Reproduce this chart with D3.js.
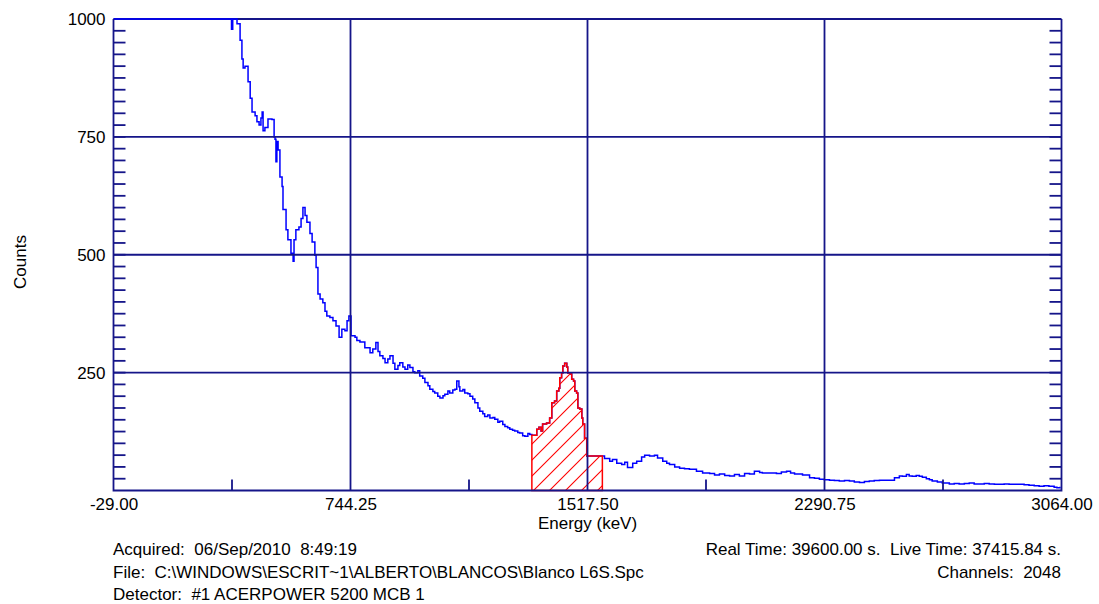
<!DOCTYPE html>
<html>
<head>
<meta charset="utf-8">
<script src="https://cdn.jsdelivr.net/npm/d3@7"></script>
<style>
  html, body { margin: 0; background: #fff; }
  svg { display: block; }
  text { font-family: "Liberation Sans", Arial, sans-serif; fill: #000; }
</style>
</head>
<body>
<svg id="chart" width="1099" height="604"></svg>
<script>
// Gamma spectrum: energy (keV) of each sampled bin and its counts
const energyKeV = [
  -29, 60, 150, 240, 300, 340, 352, 356, 360, 368,
  374, 384, 390, 394, 400, 410, 417, 423, 433, 439,
  446, 452, 456, 459, 465, 475, 488, 495, 498, 501,
  504, 508, 514, 521, 524, 534, 540, 550, 557, 560,
  566, 576, 583, 589, 596, 602, 612, 619, 628, 632,
  638, 645, 654, 661, 667, 677, 687, 697, 707, 716,
  726, 733, 739, 746, 759, 765, 775, 791, 808, 817,
  827, 834, 840, 850, 857, 866, 873, 883, 889, 899,
  905, 915, 922, 931, 938, 948, 954, 964, 970, 980,
  987, 997, 1003, 1013, 1019, 1029, 1036, 1046, 1052, 1062,
  1068, 1078, 1085, 1091, 1098, 1101, 1111, 1117, 1127, 1134,
  1143, 1150, 1160, 1166, 1176, 1182, 1192, 1199, 1209, 1215,
  1225, 1231, 1241, 1248, 1257, 1264, 1273, 1280, 1290, 1296,
  1306, 1313, 1323, 1329, 1336, 1352, 1359, 1366, 1371, 1384,
  1394, 1401, 1410, 1417, 1424, 1427, 1433, 1437, 1443, 1450,
  1453, 1463, 1466, 1472, 1476, 1482, 1486, 1492, 1499, 1502,
  1508, 1515, 1566, 1573, 1590, 1599, 1613, 1629, 1639, 1648,
  1665, 1678, 1694, 1704, 1720, 1736, 1746, 1763, 1776, 1785,
  1802, 1818, 1834, 1850, 1873, 1893, 1916, 1932, 1948, 1965,
  1981, 1997, 2013, 2030, 2046, 2062, 2079, 2088, 2111, 2134,
  2150, 2167, 2180, 2193, 2219, 2242, 2258, 2274, 2290, 2307,
  2323, 2339, 2356, 2372, 2388, 2405, 2421, 2437, 2453, 2470,
  2486, 2502, 2519, 2535, 2545, 2558, 2567, 2577, 2590, 2600,
  2610, 2623, 2633, 2642, 2659, 2675, 2698, 2714, 2730, 2747,
  2763, 2779, 2796, 2812, 2828, 2845, 2861, 2877, 2893, 2910,
  2926, 2942, 2958, 2975, 2991, 3007, 3023, 3040, 3049, 3059
];
const counts = [
  9000, 6500, 4200, 2600, 1800, 1300, 1100, 978, 1040, 1010,
  990, 955, 915, 896, 900, 867, 832, 803, 795, 782,
  775, 790, 803, 763, 770, 788, 787, 750, 745, 697,
  740, 722, 665, 645, 596, 553, 532, 503, 486, 532,
  553, 559, 577, 600, 583, 569, 545, 527, 499, 473,
  417, 406, 398, 380, 370, 367, 360, 349, 325, 342,
  339, 360, 370, 328, 325, 318, 315, 303, 292, 300,
  314, 295, 286, 280, 271, 279, 286, 270, 257, 265,
  271, 262, 257, 266, 261, 252, 250, 254, 243, 238,
  229, 222, 215, 210, 207, 200, 196, 201, 204, 211,
  207, 213, 215, 232, 220, 211, 214, 207, 205, 200,
  194, 186, 175, 168, 163, 157, 160, 154, 155, 151,
  145, 147, 140, 136, 133, 130, 128, 126, 123, 122,
  116, 115, 121, 119, 117, 130, 134, 126, 141, 143,
  154, 186, 190, 211, 217, 239, 249, 264, 270, 262,
  249, 247, 236, 232, 211, 207, 175, 173, 154, 141,
  111, 73, 73, 68, 62, 66, 58, 55, 60, 49,
  58, 62, 71, 75, 73, 75, 69, 62, 58, 55,
  50, 47, 46, 45, 41, 37, 36, 33, 35, 32,
  31, 34, 31, 36, 35, 41, 38, 37, 37, 36,
  39, 41, 37, 35, 33, 27, 26, 24, 23, 22,
  21, 20, 21, 20, 18, 17, 19, 20, 21, 22,
  22, 22, 27, 31, 30, 34, 31, 30, 32, 30,
  28, 25, 23, 20, 18, 16, 14, 15, 14, 15,
  16, 14, 14, 15, 14, 13, 13, 14, 13, 13,
  13, 12, 11, 10, 9, 10, 9, 7, 6, 8
];

// Region of interest (keV) shown hatched
const roiKeV = [1336, 1566];

// Axis ranges and labelled ticks
const energyDomain = [-29.0, 3064.0];
const countDomain = [0, 1000];
const energyTicks = [-29.0, 744.25, 1517.5, 2290.75, 3064.0];
const energyMinorTicks = [357.625, 1130.875, 1904.125, 2677.375];
const countTicks = [250, 500, 750, 1000];
const countGrid = [250, 500, 750];
const countMinorTicks = d3.range(25, 1000, 25);

const infoLeft = [
  "Acquired:  06/Sep/2010  8:49:19",
  "File:  C:\\WINDOWS\\ESCRIT~1\\ALBERTO\\BLANCOS\\Blanco L6S.Spc",
  "Detector:  #1 ACERPOWER 5200 MCB 1"
];
const infoRight = [
  "Real Time: 39600.00 s.  Live Time: 37415.84 s.",
  "Channels:  2048"
];

const spectrum = energyKeV.map((e, i) => ({ e, c: counts[i] }));

const svg = d3.select("#chart");
const navy = "#151589";
const blue = "#0000ff";
const red = "#ff0000";
const FS = 17;

// keep doubled spaces visible in SVG text
const keepSpaces = s => s.replace(/  /g, "\u00a0 ");

const x = d3.scaleLinear().domain(energyDomain).range([113.5, 1061.5]);
const y = d3.scaleLinear().domain(countDomain).range([490.5, 19]).clamp(true);
const [x0, x1] = x.range();
const [yb, yt] = y.range();

// hatch for the region of interest
const defs = svg.append("defs");
const pat = defs.append("pattern")
  .attr("id", "roiHatch")
  .attr("patternUnits", "userSpaceOnUse")
  .attr("width", 16).attr("height", 16);
pat.append("path")
  .attr("d", "M-4,4 L4,-4 M0,16 L16,0 M12,20 L20,12")
  .attr("stroke", red).attr("stroke-width", 1.1).attr("fill", "none");

// top frame line sits under the spectrum
svg.append("line")
  .attr("x1", x0).attr("x2", x1).attr("y1", yt).attr("y2", yt)
  .attr("stroke", navy).attr("stroke-width", 1.8);

// spectrum trace
const line = d3.line()
  .x(d => x(d.e)).y(d => y(d.c))
  .curve(d3.curveStepAfter);
svg.append("path")
  .datum(spectrum)
  .attr("d", line)
  .attr("fill", "none")
  .attr("stroke", blue)
  .attr("stroke-width", 1.5);

// hatched region of interest
const roi = spectrum.filter(d => d.e >= roiKeV[0] && d.e <= roiKeV[1]);
const area = d3.area()
  .x(d => x(d.e)).y0(y(0)).y1(d => y(d.c))
  .curve(d3.curveStepAfter);
svg.append("path")
  .datum(roi)
  .attr("d", area)
  .attr("fill", "url(#roiHatch)")
  .attr("stroke", red)
  .attr("stroke-width", 1.5);

// grid
const grid = svg.append("g").attr("stroke", navy).attr("stroke-width", 1.8);
grid.selectAll(".gy").data(countGrid).join("line")
  .attr("x1", x0).attr("x2", x1)
  .attr("y1", d => y(d)).attr("y2", d => y(d));
grid.selectAll(".gx").data(energyTicks.slice(1, -1)).join("line")
  .attr("x1", d => x(d)).attr("x2", d => x(d))
  .attr("y1", yt).attr("y2", yb);

// minor ticks
const ticks = svg.append("g").attr("stroke", navy).attr("stroke-width", 1.8);
ticks.selectAll(".tl").data(countMinorTicks).join("line")
  .attr("x1", x0).attr("x2", x0 + 12)
  .attr("y1", d => y(d)).attr("y2", d => y(d));
ticks.selectAll(".tr").data(countMinorTicks).join("line")
  .attr("x1", x1 - 12).attr("x2", x1)
  .attr("y1", d => y(d)).attr("y2", d => y(d));
ticks.selectAll(".tb").data(energyMinorTicks).join("line")
  .attr("x1", d => x(d)).attr("x2", d => x(d))
  .attr("y1", yb).attr("y2", yb - 11);

// left, right and bottom frame
const frame = svg.append("g").attr("stroke", navy).attr("stroke-width", 1.8).attr("fill", "none");
frame.append("path")
  .attr("d", `M${x0},${yt} L${x0},${yb} L${x1},${yb} L${x1},${yt}`);

// axis labels
const yAxis = svg.append("g")
  .attr("transform", `translate(${x0},0)`)
  .call(d3.axisLeft(y).tickValues(countTicks).tickFormat(d => String(d)).tickSize(0).tickPadding(8));
const xAxis = svg.append("g")
  .attr("transform", `translate(0,${yb})`)
  .call(d3.axisBottom(x).tickValues(energyTicks).tickFormat(d => d.toFixed(2)).tickSize(0).tickPadding(7));
[yAxis, xAxis].forEach(g => {
  g.select(".domain").remove();
  g.attr("font-size", FS).attr("font-family", null);
  g.selectAll("text").attr("fill", "#000");
});

svg.append("text")
  .attr("transform", "translate(26,262) rotate(-90)")
  .attr("text-anchor", "middle")
  .attr("font-size", FS)
  .text("Counts");

svg.append("text")
  .attr("x", x(1517.5)).attr("y", 529)
  .attr("text-anchor", "middle")
  .attr("font-size", FS)
  .text("Energy (keV)");

svg.selectAll(".infoL").data(infoLeft).join("text")
  .attr("x", 113).attr("y", (d, i) => 555 + i * 22.5)
  .attr("font-size", FS)
  .text(d => keepSpaces(d));

svg.selectAll(".infoR").data(infoRight).join("text")
  .attr("x", 1061).attr("y", (d, i) => 555 + i * 22.5)
  .attr("text-anchor", "end")
  .attr("font-size", FS)
  .text(d => keepSpaces(d));
</script>
</body>
</html>
